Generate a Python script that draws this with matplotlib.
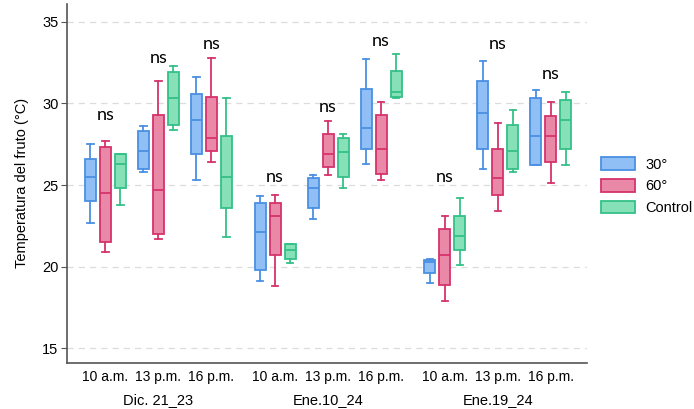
import matplotlib.pyplot as plt
from matplotlib.patches import Patch
from matplotlib.transforms import blended_transform_factory

dates = ['Dic. 21_23', 'Ene.10_24', 'Ene.19_24']
hours = ['10 a.m.', '13 p.m.', '16 p.m.']
treatments = ['30°', '60°', 'Control']

# whislo, q1, median, q3, whishi  (order: date, then hour)
s30 = [
    [22.7, 24.0, 25.5, 26.6, 27.5],
    [25.8, 26.0, 27.1, 28.3, 28.6],
    [25.3, 26.9, 29.0, 30.6, 31.6],
    [19.1, 19.8, 22.1, 23.9, 24.3],
    [22.9, 23.6, 24.8, 25.4, 25.6],
    [26.3, 27.2, 28.5, 30.9, 32.7],
    [19.0, 19.6, 20.3, 20.4, 20.5],
    [26.0, 27.2, 29.4, 31.4, 32.6],
    [26.2, 26.2, 28.0, 30.3, 30.8],
]
s60 = [
    [20.9, 21.5, 24.5, 27.3, 27.7],
    [21.7, 22.0, 24.7, 29.3, 31.4],
    [26.4, 27.1, 27.9, 30.4, 32.8],
    [18.8, 20.7, 23.1, 23.9, 24.4],
    [25.6, 26.1, 26.9, 28.1, 28.9],
    [25.3, 25.7, 27.2, 29.3, 30.1],
    [17.9, 18.9, 20.7, 22.3, 23.1],
    [23.4, 24.4, 25.4, 27.2, 28.8],
    [25.1, 26.4, 28.0, 29.2, 30.1],
]
sctl = [
    [23.8, 24.8, 26.3, 26.9, 26.9],
    [28.4, 28.7, 30.3, 31.9, 32.3],
    [21.8, 23.6, 25.5, 28.0, 30.3],
    [20.2, 20.5, 21.0, 21.4, 21.4],
    [24.8, 25.5, 27.0, 27.9, 28.1],
    [30.35, 30.4, 30.7, 32.0, 33.0],
    [20.1, 21.0, 21.9, 23.1, 24.2],
    [25.8, 26.0, 27.1, 28.7, 29.6],
    [26.2, 27.2, 29.0, 30.2, 30.7],
]
ns_y = [29.3, 32.75, 33.65, 25.5, 29.75, 33.8, 25.5, 33.65, 31.8]

edge_colors = ['#4a90e2', '#d6336c', '#35c088']
face_colors = ['#8fbff5', '#ea88a8', '#86e0b8']

plt.rcParams['font.family'] = ['Liberation Sans', 'DejaVu Sans']

fig = plt.figure(figsize=(6.94, 4.09), dpi=100)
ax = fig.add_axes([0.0961, 0.1132, 0.7497, 0.8768])

centers = [g * 3.2 + t for g in range(3) for t in range(3)]
offsets = [-0.283, 0, 0.283]

for k, stats in enumerate([s30, s60, sctl]):
    bstats = []
    for s in stats:
        bstats.append({'whislo': s[0], 'q1': s[1], 'med': s[2], 'q3': s[3],
                       'whishi': s[4], 'fliers': []})
    pos = [c + offsets[k] for c in centers]
    ec = edge_colors[k]
    ax.bxp(bstats, positions=pos, widths=0.21, capwidths=0.12,
           patch_artist=True, showfliers=False,
           boxprops=dict(facecolor=face_colors[k], edgecolor=ec, linewidth=1.3),
           medianprops=dict(color=ec, linewidth=1.3),
           whiskerprops=dict(color=ec, linewidth=1.3),
           capprops=dict(color=ec, linewidth=1.3))

for c, y in zip(centers, ns_y):
    ax.text(c, y, 'ns', ha='center', va='center', fontsize=13, family='Lato')

ax.set_xlim(-0.732, 9.085)
ax.set_ylim(14.12, 36.08)
ax.set_yticks([15, 20, 25, 30, 35])
ax.yaxis.grid(True, linestyle=(0, (5, 4)), color='#dcdcdc', linewidth=0.9)
ax.set_axisbelow(True)
ax.set_xticks(centers)
ax.set_xticklabels(hours * 3, fontsize=10)
ax.tick_params(axis='x', length=0, pad=5)
ax.tick_params(axis='y', labelsize=10.5, length=4, color='#555555', pad=2)
for side in ['top', 'right']:
    ax.spines[side].set_visible(False)
for side in ['left', 'bottom']:
    ax.spines[side].set_color('#555555')
    ax.spines[side].set_linewidth(1.2)
ax.set_ylabel('Temperatura del fruto (°C)', fontsize=10.5, labelpad=9)

trans = blended_transform_factory(ax.transData, ax.transAxes)
for g, d in enumerate(dates):
    ax.text(g * 3.2 + 1, -0.103, d, transform=trans, ha='center', va='center', fontsize=10.5)

handles = [Patch(facecolor=face_colors[k], edgecolor=edge_colors[k], linewidth=1.3)
           for k in range(3)]
fig.legend(handles, treatments, loc='center left', bbox_to_anchor=(0.858, 0.545),
           frameon=False, fontsize=10.5, handlelength=2.3, handleheight=0.95,
           handletextpad=0.7, labelspacing=0.5, borderaxespad=0)

fig.savefig('out.png', dpi=100)
